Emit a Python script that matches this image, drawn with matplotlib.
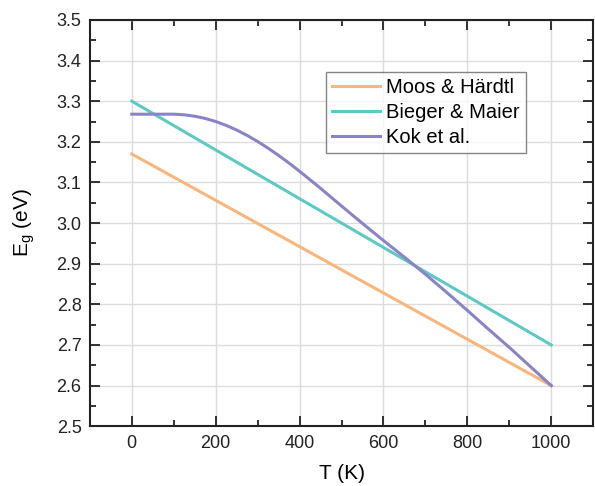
import numpy as np
import matplotlib.pyplot as plt
from matplotlib.ticker import MultipleLocator

plt.rcParams['font.family'] = ['Liberation Sans', 'DejaVu Sans']

# temperature (K)
T_lin = [0, 1000]
moos = [3.17, 2.60]
bieger = [3.30, 2.70]

T_kok = [0, 50, 100, 125, 150, 175, 200, 225, 250, 275, 300, 325, 350, 375, 400,
         450, 500, 550, 600, 650, 700, 750, 800, 850, 900, 950, 1000]
kok = [3.268, 3.268, 3.268, 3.2665, 3.263, 3.2575, 3.250, 3.2405, 3.229, 3.2158,
       3.2008, 3.1843, 3.1665, 3.1475, 3.1275, 3.0855, 3.042, 2.999, 2.957, 2.916,
       2.874, 2.830, 2.785, 2.739, 2.694, 2.647, 2.600]

labels = ["Moos & Härdtl", "Bieger & Maier", "Kok et al."]
colors = ["#F6B67D", "#5EC9C2", "#8985C5"]

fig = plt.figure(figsize=(5.95, 4.86), dpi=100)
ax = fig.add_axes([0.151, 0.123, 0.846, 0.836])

ax.plot(T_lin, moos, color=colors[0], lw=2.2, label=labels[0])
ax.plot(T_lin, bieger, color=colors[1], lw=2.2, label=labels[1])
ax.plot(T_kok, kok, color=colors[2], lw=2.2, label=labels[2],
        solid_joinstyle='round')

ax.set_xlim(-100, 1100)
ax.set_ylim(2.5, 3.5)
ax.xaxis.set_major_locator(MultipleLocator(200))
ax.xaxis.set_minor_locator(MultipleLocator(100))
ax.yaxis.set_major_locator(MultipleLocator(0.1))
ax.yaxis.set_minor_locator(MultipleLocator(0.05))
ax.set_xticks([0, 200, 400, 600, 800, 1000])
ax.grid(True, which='major', color='#dcdcdc', lw=1.0)
ax.set_axisbelow(True)

ax.tick_params(which='both', direction='in', top=True, right=True,
               labelsize=13, width=1.3, colors='#222222')
ax.tick_params(which='major', length=7, pad=6)
ax.tick_params(which='minor', length=4)
for s in ax.spines.values():
    s.set_linewidth(1.5)
    s.set_color('#222222')

ax.set_xlabel("T (K)", fontsize=15, labelpad=9)
ax.set_ylabel("E$_\\mathregular{g}$ (eV)", fontsize=15, labelpad=14)

leg = ax.legend(loc='upper left', bbox_to_anchor=(0.469, 0.872), fontsize=14.5,
                frameon=True, fancybox=False, edgecolor='#666666',
                handlelength=2.4, labelspacing=0.3, borderpad=0.3,
                handletextpad=0.3, borderaxespad=0)
leg.get_frame().set_linewidth(1.0)

fig.savefig("out.png", dpi=100)
